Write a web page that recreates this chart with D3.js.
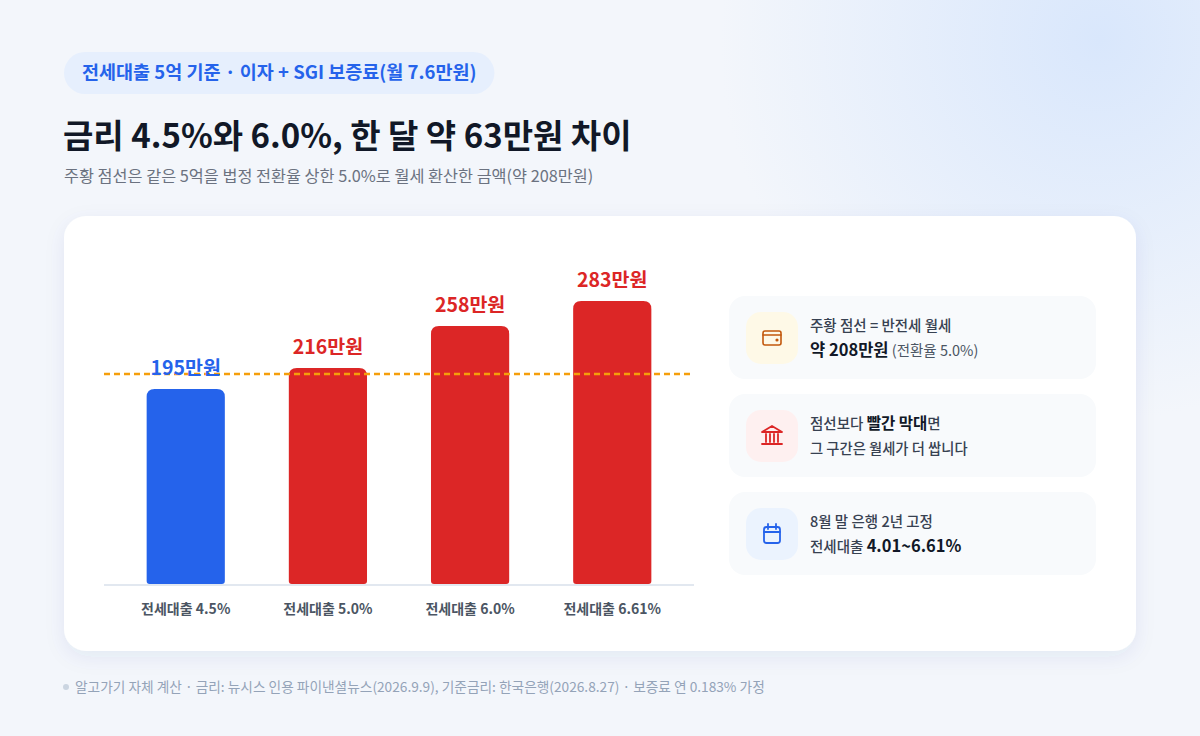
<!DOCTYPE html>
<html>
<head>
<meta charset="utf-8">
<script src="https://cdn.jsdelivr.net/npm/d3@7"></script>
<style>
  html, body { margin: 0; padding: 0; background: #f3f6fb; }
  svg { display: block; font-family: "Noto Sans CJK KR", "Noto Sans", sans-serif; }
</style>
</head>
<body>
<div id="chart"></div>
<script>
// data
var categories = ['전세대출 4.5%', '전세대출 5.0%', '전세대출 6.0%', '전세대출 6.61%'];
var rents = [195, 216, 258, 283]; // 월 납입액, 만원
var baseline = 208; // 반전세 월세 환산 (만원)
var yTicks = [0, 300];

var W = 1200, H = 736;
var svg = d3.select('#chart').append('svg')
    .attr('width', W)
    .attr('height', H);

var defs = svg.append('defs');
var bg = defs.append('radialGradient').attr('id', 'bgGlow')
    .attr('cx', 1100).attr('cy', 40).attr('r', 380)
    .attr('gradientUnits', 'userSpaceOnUse');
bg.append('stop').attr('offset', '0%').attr('stop-color', '#d9e7fc');
bg.append('stop').attr('offset', '100%').attr('stop-color', '#f3f6fb');

var shadow = defs.append('filter').attr('id', 'cardShadow')
    .attr('x', '-10%').attr('y', '-10%').attr('width', '120%').attr('height', '130%');
shadow.append('feDropShadow')
    .attr('dx', 0).attr('dy', 6).attr('stdDeviation', 10)
    .attr('flood-color', '#1e3a8a').attr('flood-opacity', 0.07);

svg.append('rect').attr('width', W).attr('height', H).attr('fill', '#f3f6fb');
svg.append('rect').attr('width', W).attr('height', H).attr('fill', 'url(#bgGlow)');

// pill on top
var pill = svg.append('g');
var pillRect = pill.append('rect')
    .attr('x', 64).attr('y', 52).attr('height', 42).attr('rx', 21)
    .attr('fill', '#e6effd');
var pillText = pill.append('text')
    .attr('x', 82).attr('y', 79)
    .attr('font-size', 18.5).attr('font-weight', 700).attr('fill', '#2563eb')
    .text('전세대출 5억 기준 · 이자 + SGI 보증료(월 7.6만원)');
pillRect.attr('width', pillText.node().getComputedTextLength() + 36);

svg.append('text')
    .attr('x', 63).attr('y', 148)
    .attr('font-size', 33).attr('font-weight', 700).attr('fill', '#111827')
    .text('금리 4.5%와 6.0%, 한 달 약 63만원 차이');

svg.append('text')
    .attr('x', 64).attr('y', 182)
    .attr('font-size', 16.3).attr('fill', '#6b7280')
    .text('주황 점선은 같은 5억을 법정 전환율 상한 5.0%로 월세 환산한 금액(약 208만원)');

// card
svg.append('rect')
    .attr('x', 64).attr('y', 216).attr('width', 1072).attr('height', 435).attr('rx', 22)
    .attr('fill', '#ffffff').attr('filter', 'url(#cardShadow)');

// chart
var x = d3.scaleBand()
    .domain(categories)
    .range([104, 694])
    .paddingInner(0.45)
    .paddingOuter(0.3);

var y = d3.scaleLinear()
    .domain(d3.extent(yTicks))
    .range([584, 284]);

// top-rounded bar path
function barPath(x0, w, y0, y1, r, rb) {
    return 'M' + x0 + ',' + (y1 - rb) +
        'V' + (y0 + r) +
        'Q' + x0 + ',' + y0 + ' ' + (x0 + r) + ',' + y0 +
        'H' + (x0 + w - r) +
        'Q' + (x0 + w) + ',' + y0 + ' ' + (x0 + w) + ',' + (y0 + r) +
        'V' + (y1 - rb) +
        'Q' + (x0 + w) + ',' + y1 + ' ' + (x0 + w - rb) + ',' + y1 +
        'H' + (x0 + rb) +
        'Q' + x0 + ',' + y1 + ' ' + x0 + ',' + (y1 - rb) + 'Z';
}

function barColor(d, i) {
    return d < baseline ? '#2563eb' : '#dc2626';
}

var plot = svg.append('g');

plot.append('line')
    .attr('x1', 104).attr('x2', 694)
    .attr('y1', y(0) + 1).attr('y2', y(0) + 1)
    .attr('stroke', '#e2e8f0').attr('stroke-width', 2);

plot.selectAll('path.bar')
    .data(rents)
    .enter()
    .append('path')
    .attr('class', 'bar')
    .attr('d', function (d, i) {
        return barPath(x(categories[i]), x.bandwidth(), y(d), y(0), 8, 3);
    })
    .attr('fill', barColor);

plot.append('line')
    .attr('x1', 104).attr('x2', 694)
    .attr('y1', y(baseline) - 2).attr('y2', y(baseline) - 2)
    .attr('stroke', '#f59e0b').attr('stroke-width', 2.5)
    .attr('stroke-dasharray', '6,4');

plot.selectAll('text.val')
    .data(rents)
    .enter()
    .append('text')
    .attr('class', 'val')
    .attr('x', function (d, i) { return x(categories[i]) + x.bandwidth() / 2; })
    .attr('y', function (d) { return y(d) - 14; })
    .attr('text-anchor', 'middle')
    .attr('font-size', 19.5).attr('font-weight', 700)
    .attr('fill', barColor)
    .text(function (d) { return d + '만원'; });

plot.selectAll('text.cat')
    .data(categories)
    .enter()
    .append('text')
    .attr('class', 'cat')
    .attr('x', function (d) { return x(d) + x.bandwidth() / 2; })
    .attr('y', 614)
    .attr('text-anchor', 'middle')
    .attr('font-size', 14).attr('font-weight', 600)
    .attr('fill', '#4b5563')
    .text(function (d) { return d; });

// side notes
var notes = [
    {y: 296, bg: '#fef9e7', color: '#c2580c', icon: 'wallet',
     lines: [[['주황 점선 = 반전세 월세', 14.5, 500, '#374151']],
             [['약 208만원', 16.5, 700, '#111827'], [' (전환율 5.0%)', 14.5, 400, '#4b5563']]]},
    {y: 394, bg: '#fef0f0', color: '#dc2626', icon: 'bank',
     lines: [[['점선보다 ', 14.5, 500, '#374151'], ['빨간 막대', 15.5, 700, '#111827'], ['면', 14.5, 500, '#374151']],
             [['그 구간은 월세가 더 쌉니다', 14.3, 500, '#374151']]]},
    {y: 492, bg: '#ebf3fe', color: '#2563eb', icon: 'calendar',
     lines: [[['8월 말 은행 2년 고정', 14.5, 500, '#374151']],
             [['전세대출 ', 14.5, 500, '#374151'], ['4.01~6.61%', 16.5, 700, '#111827']]]}
];

var note = svg.selectAll('g.note')
    .data(notes)
    .enter()
    .append('g')
    .attr('class', 'note')
    .attr('transform', function (d) { return 'translate(729,' + d.y + ')'; });

note.append('rect')
    .attr('width', 367).attr('height', 83).attr('rx', 16)
    .attr('fill', '#f8fafc');

note.append('rect')
    .attr('x', 17).attr('y', 16).attr('width', 52).attr('height', 52).attr('rx', 15)
    .attr('fill', function (d) { return d.bg; });

note.each(function (d) {
    var g = d3.select(this);
    var ic = g.append('g')
        .attr('transform', 'translate(43,42)')
        .attr('fill', 'none')
        .attr('stroke', d.color)
        .attr('stroke-width', 1.6)
        .attr('stroke-linecap', 'round')
        .attr('stroke-linejoin', 'round');
    if (d.icon === 'wallet') {
        ic.append('rect').attr('x', -9).attr('y', -7).attr('width', 18).attr('height', 14).attr('rx', 2);
        ic.append('line').attr('x1', -9).attr('x2', 9).attr('y1', -3).attr('y2', -3);
        ic.append('circle').attr('cx', 5).attr('cy', 2).attr('r', 0.8).attr('fill', d.color);
    } else if (d.icon === 'bank') {
        ic.append('path').attr('d', 'M-10,-4 L0,-10 L10,-4 Z');
        ic.append('path').attr('d', 'M-6,-2V6 M-2,-2V6 M2,-2V6 M6,-2V6');
        ic.append('path').attr('d', 'M-10,8 H10');
        ic.attr('stroke-width', 1.8);
    } else {
        ic.append('rect').attr('x', -8).attr('y', -7).attr('width', 16).attr('height', 16).attr('rx', 2.5);
        ic.append('path').attr('d', 'M-8,-2 H8 M-4,-10 V-5 M4,-10 V-5');
        ic.attr('stroke-width', 1.8);
    }

    var baselines = [35, 60];
    d.lines.forEach(function (line, k) {
        var t = g.append('text')
            .attr('x', 81).attr('y', baselines[k]);
        line.forEach(function (seg) {
            t.append('tspan')
                .attr('font-size', seg[1])
                .attr('font-weight', seg[2])
                .attr('fill', seg[3])
                .text(seg[0]);
        });
    });
});

// footer
svg.append('circle').attr('cx', 66).attr('cy', 687).attr('r', 3).attr('fill', '#cbd5e1');
svg.append('text')
    .attr('x', 75).attr('y', 692)
    .attr('font-size', 13.7).attr('fill', '#94a3b8')
    .text('알고가기 자체 계산 · 금리: 뉴시스 인용 파이낸셜뉴스(2026.9.9), 기준금리: 한국은행(2026.8.27) · 보증료 연 0.183% 가정');
</script>
</body>
</html>
